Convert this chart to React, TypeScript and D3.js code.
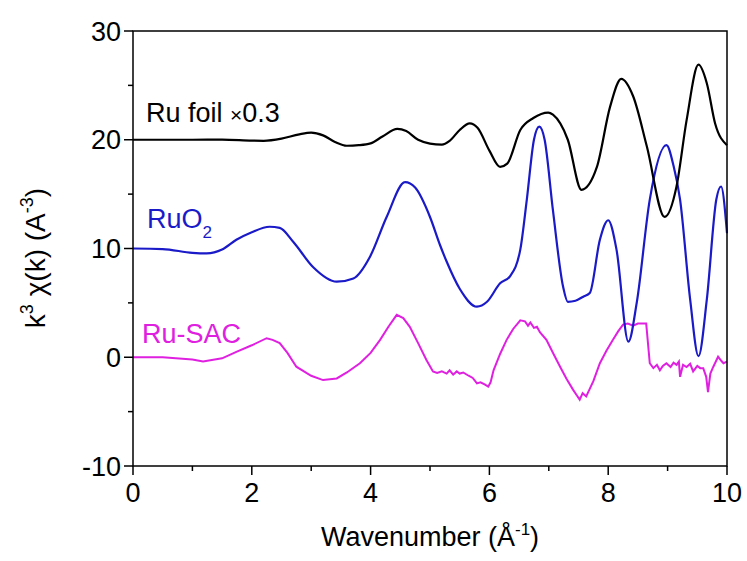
import React from "react";
import * as d3 from "d3";

const foilK = [0, 0.5, 1.0, 1.5, 2.0, 2.2, 2.5, 2.8, 3.0, 3.2, 3.4, 3.6, 3.8, 4.0, 4.2, 4.45, 4.6, 4.8, 5.0, 5.2, 5.33, 5.5, 5.67, 5.8, 6.0, 6.18, 6.3, 6.52, 6.74, 6.99, 7.07, 7.32, 7.55, 7.81, 8.03, 8.22, 8.42, 8.65, 8.95, 9.15, 9.32, 9.52, 9.66, 9.8, 10];
const foilV = [20, 20, 20, 20.02, 19.92, 19.9, 20.1, 20.5, 20.65, 20.4, 19.8, 19.45, 19.5, 19.67, 20.3, 21.0, 20.8, 20.0, 19.65, 19.55, 19.9, 20.9, 21.5, 21.1, 19.0, 17.5, 17.8, 20.9, 22.0, 22.5, 22.3, 20.0, 15.4, 17.5, 23.0, 25.6, 24.0, 19.4, 12.9, 15.7, 21.8, 26.9, 25.2, 21.5, 19.5];

const ruo2K = [0, 0.5, 1.0, 1.24, 1.5, 1.74, 2.0, 2.3, 2.47, 2.7, 3.03, 3.43, 3.71, 3.99, 4.27, 4.58, 4.75, 5.0, 5.17, 5.28, 5.5, 5.79, 5.96, 6.18, 6.35, 6.52, 6.63, 6.75, 6.84, 6.93, 7.07, 7.24, 7.32, 7.45, 7.58, 7.69, 7.86, 8.0, 8.14, 8.34, 8.48, 8.7, 8.98, 9.1, 9.21, 9.38, 9.52, 9.66, 9.82, 9.9, 10];
const ruo2V = [10.0, 9.95, 9.6, 9.55, 9.9, 10.8, 11.5, 12.0, 11.9, 10.6, 8.3, 6.95, 7.25, 9.25, 12.9, 16.1, 15.6, 12.9, 10.3, 8.8, 6.3, 4.65, 5.1, 6.8, 7.47, 9.9, 14.5, 20.0, 21.2, 20.0, 13.5, 6.5, 5.1, 5.2, 5.57, 5.9, 10.8, 12.6, 9.9, 1.43, 5.0, 14.5, 19.5, 17.6, 14.5, 5.3, 0.1, 5.3, 14.5, 15.7, 11.4];

const sacK = [0, 0.5, 1.0, 1.18, 1.5, 1.74, 2.0, 2.25, 2.35, 2.47, 2.6, 2.75, 3.0, 3.2, 3.43, 3.6, 3.82, 4.0, 4.16, 4.3, 4.44, 4.55, 4.66, 4.8, 4.94, 5.05, 5.12, 5.2, 5.28, 5.33, 5.39, 5.45, 5.5, 5.56, 5.65, 5.72, 5.79, 5.85, 5.92, 5.98, 6.02, 6.07, 6.18, 6.29, 6.4, 6.52, 6.6, 6.65, 6.69, 6.75, 6.8, 6.85, 6.96, 7.08, 7.19, 7.3, 7.41, 7.47, 7.52, 7.57, 7.63, 7.75, 7.86, 7.97, 8.08, 8.17, 8.25, 8.33, 8.42, 8.5, 8.59, 8.64, 8.7, 8.76, 8.82, 8.87, 8.92, 8.98, 9.05, 9.1, 9.15, 9.19, 9.21, 9.26, 9.32, 9.38, 9.43, 9.5, 9.55, 9.6, 9.65, 9.68, 9.72, 9.77, 9.82, 9.85, 9.9, 9.94, 10];
const sacV = [0.0, 0.0, -0.2, -0.4, -0.1, 0.5, 1.1, 1.75, 1.6, 1.3, 0.4, -0.87, -1.7, -2.1, -1.95, -1.4, -0.55, 0.4, 1.6, 2.8, 3.9, 3.6, 2.8, 1.3, -0.25, -1.3, -1.45, -1.3, -1.5, -1.2, -1.6, -1.3, -1.5, -1.4, -1.7, -1.9, -2.4, -2.3, -2.5, -2.7, -2.3, -1.2, 0.3, 1.6, 2.6, 3.4, 3.3, 2.9, 3.2, 2.7, 2.8, 2.3, 1.6, 0.3, -0.87, -2.0, -3.0, -3.5, -3.9, -3.3, -3.6, -2.2, -0.55, 0.6, 1.6, 2.4, 3.0, 3.1, 2.9, 3.1, 3.1, 3.1, -0.55, -1.0, -0.7, -1.2, -0.8, -0.55, -0.9, -0.5, -0.7, -0.4, -1.8, -0.7, -0.9, -0.6, -1.3, -0.8, -1.0, -1.0, -1.8, -3.2, -1.5, -0.87, -0.3, 0.05, -0.3, -0.55, -0.4];

const xTicks = [0, 2, 4, 6, 8, 10];
const xMinor = [1, 3, 5, 7, 9];
const yTicks = [-10, 0, 10, 20, 30];
const yMinor = [-5, 5, 15, 25];

const W = 747, H = 561;
const x0 = 133, x1 = 727, yTop = 31, yBot = 466;
const FONT = "'Liberation Sans', Arial, sans-serif";

export default function App() {
  const x = d3.scaleLinear().domain([0, 10]).range([x0, x1]);
  const y = d3.scaleLinear().domain([-10, 30]).range([yBot, yTop]);
  const mk = (ks: number[], vs: number[], curve: any) =>
    d3.line<number>().x((_, i) => x(ks[i])).y((v) => y(v)).curve(curve)(vs) || "";
  const foilPath = mk(foilK, foilV, d3.curveMonotoneX);
  const ruo2Path = mk(ruo2K, ruo2V, d3.curveMonotoneX);
  const sacPath = mk(sacK, sacV, d3.curveLinear);
  const blue = "#1a1ac8";
  const mag = "#e020e0";
  return (
    <svg width={W} height={H} style={{ position: "absolute", left: 0, top: 0, background: "#fff" }} fontFamily={FONT}>
      <rect x={0} y={0} width={W} height={H} fill="#fff" />
      <path d={sacPath} fill="none" stroke={mag} strokeWidth={2} />
      <path d={ruo2Path} fill="none" stroke={blue} strokeWidth={2.2} />
      <path d={foilPath} fill="none" stroke="#000" strokeWidth={2.2} />
      <rect x={x0} y={yTop} width={x1 - x0} height={yBot - yTop} fill="none" stroke="#000" strokeWidth={1.5} />
      {yTicks.map((t) => (
        <g key={"y" + t}>
          <line x1={x0 - 9} x2={x0} y1={y(t)} y2={y(t)} stroke="#000" strokeWidth={1.5} />
          <text x={x0 - 12} y={y(t)} dy="0.36em" textAnchor="end" fontSize={27}>{t}</text>
        </g>
      ))}
      {yMinor.map((t) => (
        <line key={"ym" + t} x1={x0 - 5} x2={x0} y1={y(t)} y2={y(t)} stroke="#000" strokeWidth={1.5} />
      ))}
      {xTicks.map((t) => (
        <g key={"x" + t}>
          <line x1={x(t)} x2={x(t)} y1={yBot} y2={yBot + 9} stroke="#000" strokeWidth={1.5} />
          <text x={x(t)} y={yBot + 36} textAnchor="middle" fontSize={27}>{t}</text>
        </g>
      ))}
      {xMinor.map((t) => (
        <line key={"xm" + t} x1={x(t)} x2={x(t)} y1={yBot} y2={yBot + 5} stroke="#000" strokeWidth={1.5} />
      ))}
      <text x={(x0 + x1) / 2} y={546} textAnchor="middle" fontSize={27}>
        Wavenumber (Å<tspan dy={-11} fontSize={17}>-1</tspan><tspan dy={11}>)</tspan>
      </text>
      <text transform={`translate(45,258) rotate(-90)`} textAnchor="middle" fontSize={28}>
        k<tspan dy={-12} fontSize={18}>3</tspan><tspan dy={12}> χ(k) (A</tspan><tspan dy={-12} fontSize={18}>-3</tspan><tspan dy={12}>)</tspan>
      </text>
      <text x={146} y={122} fontSize={27}>Ru foil <tspan fontSize={21}>×</tspan>0.3</text>
      <text x={147} y={228} fontSize={27} fill={blue}>RuO<tspan dy={10} fontSize={17}>2</tspan></text>
      <text x={142} y={343} fontSize={27} fill={mag}>Ru-SAC</text>
    </svg>
  );
}
